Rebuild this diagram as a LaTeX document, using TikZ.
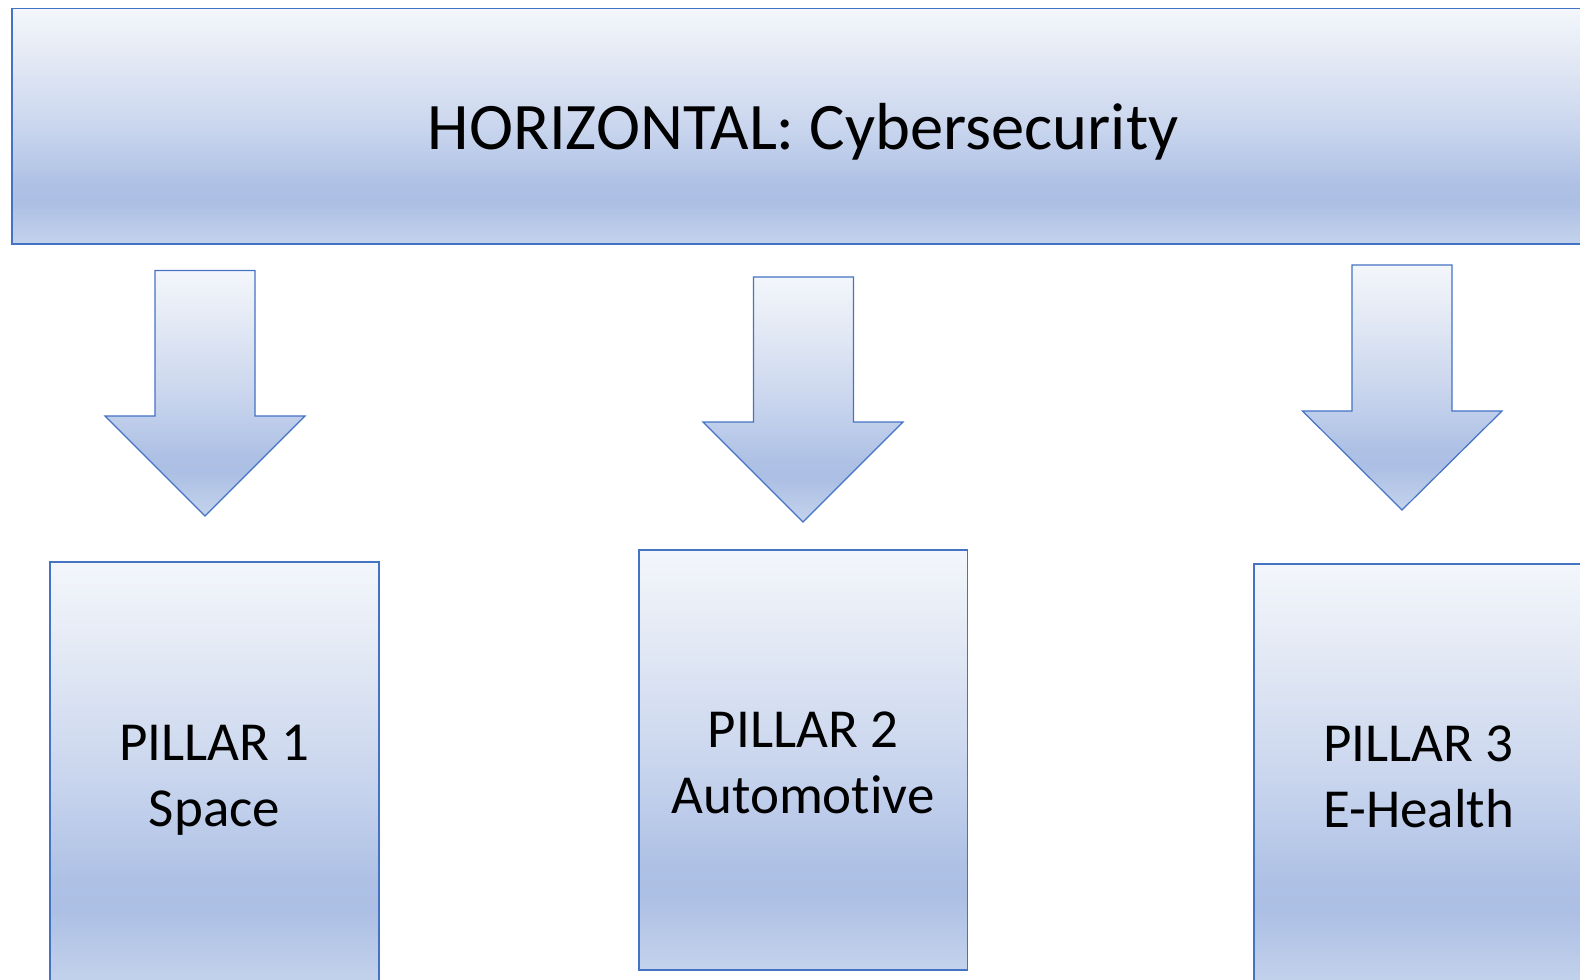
\documentclass[tikz,border=0pt]{standalone}
\usepackage{fontspec}
\setmainfont{Carlito}[Ligatures=CommonOff]
\definecolor{edgeblue}{HTML}{4472C4}
\definecolor{gA}{HTML}{C4D3EC}
\definecolor{gB}{HTML}{ACBFE4}
\definecolor{gC}{HTML}{AEC1E5}
\definecolor{gD}{HTML}{CAD6EE}
\definecolor{gE}{HTML}{E4EAF5}
\definecolor{gF}{HTML}{F3F6FB}
% Office-style light gradient; the 25bp..75bp band spans the filled shape
\pgfdeclareverticalshading{softblue}{100bp}{%
  color(0bp)=(gA); color(25bp)=(gA); color(34bp)=(gB); color(37.5bp)=(gC);
  color(50bp)=(gD); color(65bp)=(gE); color(75bp)=(gF); color(100bp)=(gF)}
\tikzset{
  block/.style={shading=softblue, draw=edgeblue, line width=1.2pt},
  bigtext/.style={font=\fontsize{66.5}{80}\selectfont, inner sep=0pt},
  pilltext/.style={font=\fontsize{55}{66}\selectfont, align=center, inner sep=0pt},
}
\begin{document}
\begin{tikzpicture}[x=1pt,y=-1pt]
  \useasboundingbox (0,0) rectangle (1580,980);
  \clip (0,0) rectangle (1580,980);

  % top band
  \path[block] (12,8.5) rectangle (1600,244);
  \node[bigtext, anchor=base] (horiz) at (803,149) {HORIZONTAL: Cybersecurity};

  % block arrows
  \path[block] (155,270.5) -- (255,270.5) -- (255,416) -- (305,416) -- (205,516)
      -- (105,416) -- (155,416) -- cycle;
  \path[block] (753.5,277) -- (853.5,277) -- (853.5,422) -- (903,422) -- (803,522)
      -- (703,422) -- (753.5,422) -- cycle;
  \path[block] (1352,265) -- (1452,265) -- (1452,411) -- (1502,411) -- (1402,510)
      -- (1302.5,411) -- (1352,411) -- cycle;

  % pillars
  \path[block] (50,562) rectangle (379,985);
  \path[block] (639,550) rectangle (967.5,970);
  \path[block] (1254,564) rectangle (1590,987);

  % multi-line labels: the base anchor sits on the last line
  \node[pilltext, anchor=base] (p1) at (214.5,826.7) {PILLAR 1\\Space};
  \node[pilltext, anchor=base] (p2) at (803,813.7) {PILLAR 2\\Automotive};
  \node[pilltext, anchor=base] (p3) at (1418.5,827.3) {PILLAR 3\\E-Health};
\end{tikzpicture}
\end{document}
